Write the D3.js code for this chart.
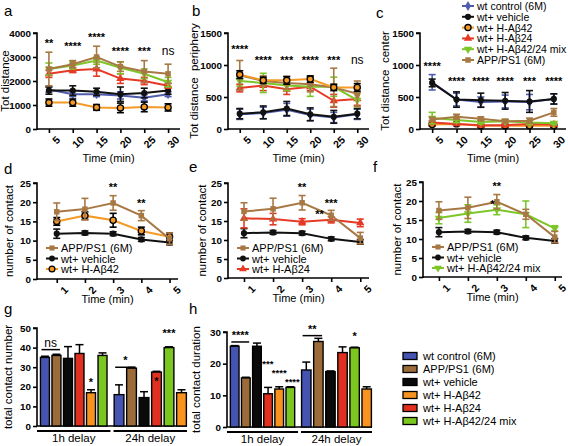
<!DOCTYPE html>
<html><head><meta charset="utf-8">
<script src="https://cdn.jsdelivr.net/npm/d3@7"></script>
<style>
body{margin:0;background:#fff;}
svg text{font-family:"Liberation Sans",Arial,sans-serif;fill:#000;}
</style></head><body>
<svg id="c" width="568" height="446"></svg>
<script>
// ---------- DATA ----------
const timeA = [5,10,15,20,25,30];
const timeD = [1,2,3,4,5];
const groupNames = ["wt control (6M)","wt+ vehicle","wt+ H-A\u03b242","wt+ H-A\u03b224","wt+ H-A\u03b242/24 mix","APP/PS1 (6M)"];

// panel a: Tot distance
const aCtrl = [1650,1450,1450,1400,1300,1450], aCtrlE = [120,100,100,150,130,100];
const aVeh  = [1600,1600,1550,1450,1500,1600], aVehE = [150,200,150,300,200,150];
const a42   = [1100,1100,900,880,920,900],     a42E  = [150,150,120,200,200,150];
const a24   = [2300,2450,2500,2100,2000,1800], a24E  = [150,100,300,200,150,100];
const aMix  = [2500,2650,2850,2550,2300,1950], aMixE = [250,150,150,250,200,200];
const aApp  = [2500,2700,3000,2600,2400,2300], aAppE = [700,150,450,200,450,400];
const aStars = ["**","****","****","****","***","ns"];
const aStarY = [3400,3300,3650,3100,3100,3100];

// panel b: Tot distance periphery
const bCtrl = [230,250,300,220,180,230], bCtrlE = [80,90,100,90,80,80];
const bVeh  = [240,260,320,230,190,240], bVehE = [80,100,110,100,100,80];
const b42   = [850,760,760,780,650,650], b42E  = [60,50,60,50,50,60];
const b24   = [640,680,620,660,440,470], b24E  = [60,80,80,60,100,100];
const bMix  = [750,720,680,660,660,450], bMixE = [80,150,80,150,150,100];
const bApp  = [840,750,720,700,650,550], bAppE = [230,80,100,120,300,200];
const bStars = ["****","****","***","****","***","ns"];
const bStarY = [1180,1020,1020,1020,1020,1020];

// panel c: Tot distance center
const cCtrl = [730,460,420,430,420,470], cCtrlE = [120,100,80,100,120,80];
const cVeh  = [720,460,450,440,430,470], cVehE = [60,120,110,130,170,80];
const c42   = [70,80,50,50,50,50],       c42E  = [20,20,20,20,20,20];
const c24   = [100,80,60,60,80,70],      c24E  = [30,20,20,20,20,20];
const cMix  = [170,140,110,120,100,90],  cMixE = [90,40,30,30,30,20];
const cApp  = [150,190,160,120,130,260], cAppE = [30,40,30,30,40,60];
const cStars = ["****","****","****","****","***","****"];
const cStarY = [920,690,690,690,690,690];

// panels d-f: number of contact
const dApp = [17.5,18.2,19.8,16.5,10.5], dAppE = [2.3,2.8,1.9,1.3,1.5];
const dVeh = [11.8,12,11.8,10.3,9.5],    dVehE = [1.2,0.5,0.5,0.5,0.6];
const d42  = [15,16.5,15.3,12.5,11],     d42E  = [1,1,1.8,1,1];
const e24  = [15.7,15.5,14.8,15.3,14.5], e24E  = [2.5,1.5,0.8,0.8,1];
const fMix = [15.5,16.7,17.7,16.5,12.8], fMixE = [1.5,2.3,1.3,3.5,0.7];

// panels g-h: bars
const delays = ["1h delay","24h delay"];
const barOrder1h  = ["ctrl","app","veh","h24","h42","mix"];
const barOrder24h = ["ctrl","app","veh","h24","mix","h42"];
const gVal1h  = [35,36,34.5,37,17,36],     gErr1h  = [0.6,0.6,6,4.5,1.5,1.3];
const gVal24h = [16,29.5,14.5,27.5,40,17], gErr24h = [5,0.4,3,0.4,0.4,1.5];
const hVal1h  = [25.5,15.5,25.5,10.5,12,12.5], hErr1h  = [0.2,0.2,1,2,0.7,0.2];
const hVal24h = [18,27,17.5,23.5,25,12],       hErr24h = [2.5,1,0.2,1.8,0.2,0.7];
const barLegend = ["wt control (6M)","APP/PS1 (6M)","wt+ vehicle","wt+ H-A\u03b242","wt+ H-A\u03b224","wt+ H-A\u03b242/24 mix"];
const barLegendKeys = ["ctrl","app","veh","h42","h24","mix"];

// ---------- STYLE ----------
const col = {ctrl:"#4f5cb0", veh:"#111111", h42:"#f49a25", h24:"#e63a26", mix:"#7cc629", app:"#a87844"};
const barCol = {ctrl:"#4454b0", veh:"#0a0a0a", h42:"#f7931e", h24:"#e0301f", mix:"#7bc61f", app:"#9c6b3a"};
const sym = {ctrl:d3.symbolDiamond, veh:d3.symbolCircle, h42:d3.symbolCircle, h24:d3.symbolTriangle, mix:d3.symbolTriangle, app:d3.symbolSquare};

const svg = d3.select("#c");
const fmt = d3.format("d");

function panelLabel(t,x,y){ svg.append("text").attr("x",x).attr("y",y).attr("font-size",15).text(t); }

function marker(g, key, x, y, size){
  const m = g.append("path").attr("d", d3.symbol().type(sym[key]).size(size||34)())
    .attr("transform", `translate(${x},${y})` + (key==="mix"?" rotate(180)":""));
  if(key==="h42"){ m.attr("fill",col.h42).attr("stroke","#000").attr("stroke-width",1.3); }
  else m.attr("fill",col[key]);
  return m;
}

function axisStyle(g){
  g.selectAll("path,line").attr("stroke","#000").attr("stroke-width",1.6);
  g.selectAll("text").attr("font-size",9.8).attr("font-weight","bold");
}

function linePanel(o){
  const x = d3.scaleLinear().domain(o.xd).range([o.l,o.r]);
  const y = d3.scaleLinear().domain(o.yd).range([o.b,o.t]);
  const g = svg.append("g");
  const ya = g.append("g").attr("transform",`translate(${o.l},0)`)
    .call(d3.axisLeft(y).tickValues(o.yt).tickFormat(fmt).tickSize(4).tickSizeOuter(0).tickPadding(2));
  axisStyle(ya);
  ya.select(".domain").attr("d",`M-4,${y(o.yd[1])}H0V${o.b+1}`);
  const xa = g.append("g").attr("transform",`translate(0,${o.b})`)
    .call(d3.axisBottom(x).tickValues(o.xs).tickFormat(fmt).tickSize(4).tickSizeOuter(0));
  axisStyle(xa);
  xa.select(".domain").attr("d",`M${o.l},0H${o.r}`);
  xa.selectAll("text").attr("font-size",10.5).attr("text-anchor","end").attr("transform","translate(4,4) rotate(-45)").attr("dy","0.35em").attr("dx","0");
  // y title
  svg.append("text").attr("transform",`translate(${o.l-o.to},${(o.t+o.b)/2}) rotate(-90)`)
    .attr("text-anchor","middle").attr("font-size",11.5).attr("xml:space","preserve").text(o.title);
  // x title
  svg.append("text").attr("x",(o.l+o.r)/2).attr("y",o.b+o.xo).attr("text-anchor","middle").attr("font-size",11).text("Time (min)");
  // series
  o.series.forEach(s=>{
    const pts = o.xs.map((t,i)=>({x:x(t),y:y(s.v[i]),lo:y(s.v[i]-s.e[i]),hi:y(s.v[i]+s.e[i])}));
    const ec = s.k==="h42" ? "#000" : col[s.k];
    pts.forEach(p=>{
      g.append("line").attr("x1",p.x).attr("x2",p.x).attr("y1",p.lo).attr("y2",p.hi).attr("stroke",ec).attr("stroke-width",1.6);
      [p.lo,p.hi].forEach(yy=>g.append("line").attr("x1",p.x-3.5).attr("x2",p.x+3.5).attr("y1",yy).attr("y2",yy).attr("stroke",ec).attr("stroke-width",1.6));
    });
    g.append("path").attr("d",d3.line().x(p=>p.x).y(p=>p.y)(pts)).attr("fill","none").attr("stroke",col[s.k]).attr("stroke-width",2);
    pts.forEach(p=>marker(g,s.k,p.x,p.y,30));
  });
  if(o.stars){
    o.stars.forEach((s,i)=>{
      g.append("text").attr("x",x(o.xs[i])).attr("y",y(o.starY[i])).attr("text-anchor","middle")
       .attr("font-size",s==="ns"?12:11).attr("font-weight",s==="ns"?"normal":"bold").text(s);
    });
  }
  if(o.extra) o.extra.forEach(s=>g.append("text").attr("x",x(s[0])).attr("y",y(s[1])).attr("text-anchor","middle").attr("font-size",11).attr("font-weight","bold").text(s[2]));
  if(o.legend){
    o.legend.forEach((s,i)=>{
      const ly = o.legY + i*10.5;
      g.append("line").attr("x1",o.l+9).attr("x2",o.l+21).attr("y1",ly).attr("y2",ly).attr("stroke",col[s[0]]).attr("stroke-width",2);
      marker(g,s[0],o.l+15,ly,26);
      g.append("text").attr("x",o.l+24).attr("y",ly+4).attr("font-size",11).text(s[1]);
    });
  }
}

panelLabel("a",4,16); panelLabel("b",192,16); panelLabel("c",376,18);
linePanel({l:37,r:180,t:33,b:129,xd:[2.5,32.5],yd:[0,4000],yt:[0,1000,2000,3000,4000],xs:timeA,title:"Tot distance",to:28,xo:33,
  series:[{k:"ctrl",v:aCtrl,e:aCtrlE},{k:"veh",v:aVeh,e:aVehE},{k:"h42",v:a42,e:a42E},{k:"h24",v:a24,e:a24E},{k:"mix",v:aMix,e:aMixE},{k:"app",v:aApp,e:aAppE}],
  stars:aStars,starY:aStarY});
linePanel({l:228,r:369,t:33,b:129,xd:[2.5,32.5],yd:[0,1500],yt:[0,500,1000,1500],xs:timeA,title:"Tot distance  periphery",to:30,xo:33,
  series:[{k:"ctrl",v:bCtrl,e:bCtrlE},{k:"veh",v:bVeh,e:bVehE},{k:"h24",v:b24,e:b24E},{k:"mix",v:bMix,e:bMixE},{k:"app",v:bApp,e:bAppE},{k:"h42",v:b42,e:b42E}],
  stars:bStars,starY:bStarY});
linePanel({l:420,r:566,t:33,b:129,xd:[2.5,32.5],yd:[0,1500],yt:[0,500,1000,1500],xs:timeA,title:"Tot distance  center",to:31,xo:33,
  series:[{k:"h42",v:c42,e:c42E},{k:"h24",v:c24,e:c24E},{k:"mix",v:cMix,e:cMixE},{k:"app",v:cApp,e:cAppE},{k:"ctrl",v:cCtrl,e:cCtrlE},{k:"veh",v:cVeh,e:cVehE}],
  stars:cStars,starY:cStarY});

// top legend
groupNames.forEach((n,i)=>{
  const keys=["ctrl","veh","h42","h24","mix","app"];
  const ly = 6 + i*10.8;
  svg.append("line").attr("x1",462).attr("x2",474).attr("y1",ly).attr("y2",ly).attr("stroke",col[keys[i]]).attr("stroke-width",2);
  marker(svg,keys[i],468,ly,30);
  svg.append("text").attr("x",477).attr("y",ly+4).attr("font-size",10.5).text(n);
});

panelLabel("d",4,174); panelLabel("e",189,172); panelLabel("f",373,172);
linePanel({l:37,r:178,t:183,b:279,xd:[0.3,5.3],yd:[0,25],yt:[0,5,10,15,20,25],xs:timeD,title:"number of contact",to:24,xo:24,
  series:[{k:"veh",v:dVeh,e:dVehE},{k:"h42",v:d42,e:d42E},{k:"app",v:dApp,e:dAppE}],
  stars:["","","**","**",""],starY:[0,0,22.8,18.8,0],
  legend:[["app","APP/PS1 (6M)"],["veh","wt+ vehicle"],["h42","wt+ H-A\u03b242"]],legY:248});
linePanel({l:228,r:369,t:183,b:278,xd:[0.45,5.3],yd:[0,25],yt:[0,5,10,15,20,25],xs:timeD,title:"number of contact",to:22,xo:24,
  series:[{k:"veh",v:dVeh,e:dVehE},{k:"h24",v:e24,e:e24E},{k:"app",v:dApp,e:dAppE}],
  stars:["","","**","***",""],starY:[0,0,22.8,18.8,0],extra:[[3.6,15.8,"**"]],
  legend:[["app","APP/PS1 (6M)"],["veh","wt+ vehicle"],["h24","wt+ H-A\u03b224"]],legY:248});
linePanel({l:423,r:562,t:182,b:277,xd:[0.45,5.25],yd:[0,25],yt:[0,5,10,15,20,25],xs:timeD,title:"number of contact",to:22,xo:24,
  series:[{k:"veh",v:dVeh,e:dVehE},{k:"mix",v:fMix,e:fMixE},{k:"app",v:dApp,e:dAppE}],
  stars:["","","**","",""],starY:[0,0,22.8,0,0],extra:[[2.85,18.2,"*"]],
  legend:[["app","APP/PS1 (6M)"],["veh","wt+ vehicle"],["mix","wt+ H-A\u03b242/24 mix"]],legY:247});

// ---------- BAR PANELS ----------
function barPanel(o){
  const y = d3.scaleLinear().domain(o.yd).range([o.b,o.t]);
  const gx = d3.scaleBand().domain(delays).range([o.l,o.r]).paddingInner(0.04);
  const g = svg.append("g");
  const ya = g.append("g").attr("transform",`translate(${o.l},0)`)
    .call(d3.axisLeft(y).tickValues(o.yt).tickFormat(fmt).tickSize(4).tickSizeOuter(0).tickPadding(2));
  axisStyle(ya);
  ya.select(".domain").attr("d",`M-4,${y(o.yd[1])}H0V${o.b}`);
  g.append("line").attr("x1",o.l).attr("x2",o.r).attr("y1",o.b).attr("y2",o.b).attr("stroke","#000").attr("stroke-width",1.6);
  svg.append("text").attr("transform",`translate(${o.l-o.to},${(o.t+o.b)/2}) rotate(-90)`)
    .attr("text-anchor","middle").attr("font-size",11.5).text(o.title);
  const sets = [[barOrder1h,o.v1,o.e1],[barOrder24h,o.v2,o.e2]];
  delays.forEach((d,gi)=>{
    const [order,vals,errs] = sets[gi];
    const ix = d3.scaleBand().domain(order).range([gx(d),gx(d)+gx.bandwidth()]).paddingInner(0.22).paddingOuter(gi===0?0.3:0.05);
    order.forEach((k,i)=>{
      const x0 = ix(k), w = ix.bandwidth(), cx = x0+w/2;
      g.append("line").attr("x1",cx).attr("x2",cx).attr("y1",y(vals[i])).attr("y2",y(vals[i]+errs[i])).attr("stroke","#000").attr("stroke-width",1.5);
      g.append("line").attr("x1",cx-4).attr("x2",cx+4).attr("y1",y(vals[i]+errs[i])).attr("y2",y(vals[i]+errs[i])).attr("stroke","#000").attr("stroke-width",1.5);
      g.append("rect").attr("x",x0).attr("y",y(vals[i])).attr("width",w).attr("height",o.b-y(vals[i]))
        .attr("fill",barCol[k]).attr("stroke","#000").attr("stroke-width",1.4);
    });
    const x1 = gx(d), x2 = gx(d)+gx.bandwidth();
    g.append("line").attr("x1",x1).attr("x2",x2).attr("y1",o.b+5).attr("y2",o.b+5).attr("stroke","#000").attr("stroke-width",2);
    g.append("text").attr("x",(x1+x2)/2).attr("y",o.b+16).attr("text-anchor","middle").attr("font-size",11.5).text(d);
    o.ann.filter(a=>a.g===gi).forEach(a=>{
      if(a.line){
        const xa = ix(order[a.line[0]])+1, xb = ix(order[a.line[1]])+ix.bandwidth()-1;
        g.append("line").attr("x1",xa).attr("x2",xb).attr("y1",y(a.y)+3).attr("y2",y(a.y)+3).attr("stroke","#000").attr("stroke-width",1.5);
        g.append("text").attr("x",(xa+xb)/2).attr("y",y(a.y)).attr("text-anchor","middle").attr("font-size",a.t==="ns"?12:11).attr("font-weight",a.t==="ns"?"normal":"bold").text(a.t);
      } else {
        const k = order[a.at];
        g.append("text").attr("x",ix(k)+ix.bandwidth()/2 + (a.dx||0)).attr("y",y(a.y)).attr("text-anchor","middle").attr("font-size",a.fs||11).attr("font-weight","bold").text(a.t);
      }
    });
  });
}
panelLabel("g",4,314); panelLabel("h",189,314);
barPanel({l:37,r:187,t:328,b:426,yd:[0,50],yt:[0,10,20,30,40,50],title:"total contact number",to:25,
  v1:gVal1h,e1:gErr1h,v2:gVal24h,e2:gErr24h,
  ann:[{g:0,line:[0,1],y:40.5,t:"ns"},{g:0,at:4,y:20.5,t:"*"},{g:1,line:[0,1],y:31.5,t:"*"},{g:1,at:3,y:21,t:"*"},{g:1,at:4,y:45.5,t:"***"}]});
barPanel({l:227,r:372,t:332,b:427,yd:[0,30],yt:[0,10,20,30],title:"total contact duration",to:27,
  v1:hVal1h,e1:hErr1h,v2:hVal24h,e2:hErr24h,
  ann:[{g:0,line:[0,1],y:27.8,t:"****"},{g:0,at:3,y:19,t:"****",dx:-2,fs:9.5},{g:0,at:4,y:16,t:"****",dx:0,fs:9.5},{g:0,at:5,y:13.3,t:"****",dx:2,fs:9.5},{g:1,line:[0,1],y:29.8,t:"**"},{g:1,at:4,y:27.5,t:"*"}]});

// bar legend
barLegend.forEach((n,i)=>{
  const ly = 356 + i*13;
  svg.append("rect").attr("x",403).attr("y",ly-3.5).attr("width",14).attr("height",7).attr("fill",barCol[barLegendKeys[i]]).attr("stroke","#000").attr("stroke-width",1.3);
  svg.append("text").attr("x",423).attr("y",ly+4).attr("font-size",11).text(n);
});
</script></body></html>
